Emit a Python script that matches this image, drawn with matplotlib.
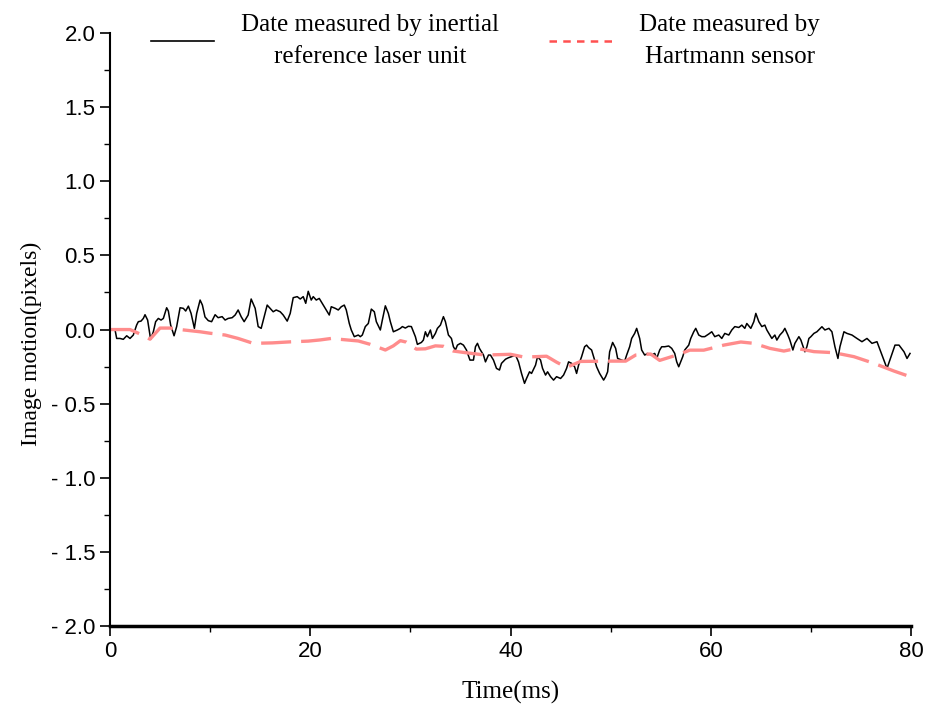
import matplotlib
matplotlib.use("Agg")
import matplotlib.pyplot as plt
from matplotlib.lines import Line2D
from matplotlib.ticker import MultipleLocator

# Inertial reference laser unit (black, noisy)
t_iru = [0.5, 0.67, 1.0, 1.33, 1.67, 2.0, 2.33, 2.66, 2.83, 3.1, 3.33, 3.5, 3.76, 4.06, 4.33,
         4.56, 4.83, 5.1, 5.33, 5.66, 5.83, 6.06, 6.4, 6.66, 7.0, 7.33, 7.56, 7.83, 8.1, 8.43,
         8.66, 9.0, 9.23, 9.49, 9.82, 10.15, 10.5, 10.8, 11.2, 11.5, 11.8, 12.2, 12.5, 12.8,
         13.1, 13.4, 13.8, 14.1, 14.5, 14.8, 15.1, 15.4, 15.7, 16.0, 16.3, 16.6, 17.0, 17.3,
         17.7, 18.0, 18.3, 18.7, 19.0, 19.3, 19.55, 19.8, 20.1, 20.3, 20.6, 20.9, 21.3, 21.6,
         21.9, 22.1, 22.5, 22.8, 23.1, 23.4, 23.6, 23.9, 24.1, 24.4, 24.8, 25.0, 25.2, 25.5,
         25.8, 26.1, 26.4, 26.6, 27.0, 27.2, 27.5, 27.8, 28.0, 28.3, 28.7, 29.0, 29.2, 29.5,
         29.8, 30.1, 30.5, 30.7, 31.1, 31.3, 31.5, 31.7, 32.0, 32.2, 32.5, 32.7, 33.0, 33.3,
         33.5, 33.8, 34.1, 34.3, 34.5, 34.7, 35.0, 35.3, 35.6, 35.95, 36.3, 36.5, 36.7, 36.9,
         37.3, 37.5, 37.8, 38.0, 38.3, 38.6, 38.9, 39.1, 39.5, 39.8, 40.1, 40.5, 40.8, 41.1,
         41.4, 41.6, 41.9, 42.1, 42.5, 42.7, 43.0, 43.2, 43.5, 43.7, 44.0, 44.3, 44.6, 45.0,
         45.3, 45.6, 45.8, 46.1, 46.4, 46.6, 46.8, 47.1, 47.4, 47.6, 47.8, 48.1, 48.4, 48.6,
         48.9, 49.3, 49.5, 49.7, 49.9, 50.2, 50.5, 50.7, 51.1, 51.4, 51.6, 51.9, 52.1, 52.4,
         52.6, 52.9, 53.1, 53.4, 53.7, 54.1, 54.4, 54.6, 54.9, 55.1, 55.4, 55.8, 56.1, 56.4,
         56.6, 56.8, 57.2, 57.4, 57.8, 58.0, 58.3, 58.5, 58.8, 59.1, 59.4, 59.8, 60.1, 60.4,
         60.8, 61.1, 61.4, 61.8, 62.1, 62.4, 62.8, 63.1, 63.4, 63.6, 64.0, 64.3, 64.5, 64.8,
         65.1, 65.4, 65.6, 65.9, 66.1, 66.4, 66.6, 66.9, 67.2, 67.4, 67.7, 67.9, 68.2, 68.4,
         68.8, 69.0, 69.4, 69.6, 69.8, 70.0, 70.3, 70.6, 71.1, 71.4, 71.8, 72.1, 72.4, 72.7,
         72.9, 73.3, 73.6, 74.1, 74.6, 75.1, 75.6, 76.1, 76.6, 77.1, 77.6, 78.0, 78.4, 78.8,
         79.3, 79.6, 79.9]
v_iru = [0.0, -0.06, -0.06, -0.066, -0.042, -0.06, -0.037, 0.03, 0.053, 0.057, 0.075, 0.10, 0.064,
         -0.066, -0.015, 0.053, 0.075, 0.064, 0.075, 0.147, 0.125, 0.03, -0.042, 0.02, 0.147,
         0.143, 0.125, 0.158, 0.109, 0.008, 0.109, 0.199, 0.165, 0.085, 0.06, 0.053, 0.10, 0.08,
         0.087, 0.064, 0.075, 0.08, 0.098, 0.132, 0.087, 0.053, 0.098, 0.206, 0.143, 0.02, 0.008,
         0.087, 0.165, 0.143, 0.12, 0.132, 0.12, 0.098, 0.057, 0.109, 0.215, 0.222, 0.206, 0.222,
         0.177, 0.258, 0.199, 0.222, 0.199, 0.21, 0.165, 0.132, 0.098, 0.154, 0.143, 0.132, 0.154,
         0.165, 0.132, 0.041, -0.003, -0.048, -0.037, -0.048, -0.037, 0.02, 0.041, 0.138, 0.12,
         0.053, -0.003, 0.064, 0.16, 0.109, 0.053, -0.015, -0.003, 0.008, 0.02, 0.01, 0.022, 0.02,
         -0.048, -0.1, -0.087, -0.071, -0.015, -0.048, -0.003, -0.06, -0.026, 0.008, 0.03, 0.087,
         0.053, -0.037, -0.06, -0.116, -0.138, -0.105, -0.093, -0.105, -0.138, -0.206, -0.206,
         -0.116, -0.093, -0.127, -0.172, -0.218, -0.172, -0.172, -0.206, -0.262, -0.273, -0.228,
         -0.2, -0.19, -0.183, -0.172, -0.218, -0.296, -0.363, -0.33, -0.285, -0.296, -0.24,
         -0.183, -0.206, -0.262, -0.307, -0.285, -0.318, -0.341, -0.318, -0.33, -0.307, -0.262,
         -0.218, -0.228, -0.251, -0.296, -0.24, -0.183, -0.116, -0.105, -0.122, -0.138, -0.206,
         -0.251, -0.296, -0.341, -0.318, -0.285, -0.15, -0.087, -0.127, -0.195, -0.206, -0.213,
         -0.172, -0.116, -0.06, -0.026, 0.008, -0.06, -0.138, -0.172, -0.161, -0.172, -0.161,
         -0.195, -0.138, -0.116, -0.116, -0.111, -0.127, -0.161, -0.218, -0.251, -0.183, -0.138,
         -0.105, -0.06, -0.015, 0.008, -0.037, -0.048, -0.048, -0.03, -0.015, -0.048, -0.037,
         -0.06, -0.026, -0.037, -0.003, 0.02, 0.014, 0.03, 0.008, 0.041, 0.008, 0.053, 0.109,
         0.053, 0.02, 0.03, -0.003, -0.037, -0.06, -0.037, -0.071, -0.037, -0.015, 0.008, -0.037,
         -0.071, -0.138, -0.093, -0.048, -0.071, -0.15, -0.116, -0.06, -0.048, -0.026, -0.015,
         0.019, -0.003, 0.008, -0.015, -0.116, -0.195, -0.116, -0.015, -0.026, -0.037, -0.06,
         -0.082, -0.06, -0.093, -0.082, -0.172, -0.262, -0.183, -0.105, -0.105, -0.15, -0.195,
         -0.161]

# Hartmann sensor (red dashed, smooth)
t_hs = [0, 2, 3, 4, 5, 6, 7, 9, 10, 11.5, 12.8, 14.3, 16.2, 18, 19.8, 21, 22.1, 23, 24.8, 26,
        27.5, 28.3, 29.0, 29.6, 30.6, 31.5, 32.5, 33.3, 34.3, 35.5, 37.5, 40, 41.3, 42.5, 43.6,
        44.6, 45.6, 47, 50, 51.5, 52.5, 54, 54.9, 56.8, 57.9, 59.3, 61.3, 63, 64.3, 65.9, 67.3,
        68.6, 70.3, 72.3, 74.3, 76.3, 78.3, 80]
v_hs = [0, 0, -0.03, -0.065, 0.01, 0.01, 0.0, -0.015, -0.025, -0.037, -0.06, -0.093, -0.09,
        -0.083, -0.078, -0.07, -0.06, -0.066, -0.077, -0.1, -0.138, -0.11, -0.075, -0.085,
        -0.132, -0.13, -0.11, -0.113, -0.145, -0.156, -0.172, -0.167, -0.185, -0.183, -0.18,
        -0.22, -0.255, -0.215, -0.213, -0.213, -0.172, -0.165, -0.208, -0.168, -0.139, -0.139,
        -0.105, -0.084, -0.093, -0.127, -0.145, -0.127, -0.149, -0.156, -0.183, -0.228, -0.28,
        -0.32]

y_ticks = [2.0, 1.5, 1.0, 0.5, 0.0, -0.5, -1.0, -1.5, -2.0]
y_ticklabels = ["2.0", "1.5", "1.0", "0.5", "0.0", "- 0.5", "- 1.0", "- 1.5", "- 2.0"]
x_ticks = [0, 20, 40, 60, 80]

label_iru = "Date measured by inertial\nreference laser unit"
label_hs = "Date measured by\nHartmann sensor"

serif = "Liberation Serif"
sans = "Liberation Sans"

fig = plt.figure(figsize=(9.32, 7.11), dpi=100)
ax = fig.add_axes([0.118, 0.1195, 0.8595, 0.834])

ax.plot(t_iru, v_iru, color="black", lw=1.1)
ax.plot(t_hs, v_hs, color="#ff8c8c", lw=2.4, dashes=(9, 3))

ax.set_xlim(0, 80)
ax.set_ylim(-2.0, 2.0)
ax.set_xticks(x_ticks)
ax.set_yticks(y_ticks)
ax.set_yticklabels(y_ticklabels)
ax.xaxis.set_minor_locator(MultipleLocator(10))
ax.yaxis.set_minor_locator(MultipleLocator(0.25))
ax.tick_params(which="major", direction="out", length=7, width=1.2, labelsize=16)
ax.tick_params(which="minor", direction="out", length=4, width=1.0)
for lab in ax.get_xticklabels() + ax.get_yticklabels():
    lab.set_fontfamily(sans)

for side in ["top", "right"]:
    ax.spines[side].set_visible(False)
ax.spines["left"].set_linewidth(1.5)
ax.spines["bottom"].set_linewidth(2.5)

ax.set_xlabel("Time(ms)", fontfamily=serif, fontsize=18, labelpad=14)
ax.set_ylabel("Image motion(pixels)", fontfamily=serif, fontsize=17)
ax.yaxis.set_label_coords(-0.085, 0.475)

# legend handles
h1 = Line2D([], [], color="black", lw=1.2)
h2 = Line2D([], [], color="#ff5050", lw=1.8, dashes=(3, 2.5))
leg = ax.legend([h1, h2], [label_iru, label_hs], ncol=2, frameon=False,
                loc="center", bbox_to_anchor=(0.469, 0.986),
                prop={"family": serif, "size": 18},
                handlelength=2.5, handletextpad=1.1, columnspacing=2.0)
for txt in leg.get_texts():
    txt.set_multialignment("center")
    txt.set_linespacing(1.6)

fig.savefig("out.png", dpi=100)
